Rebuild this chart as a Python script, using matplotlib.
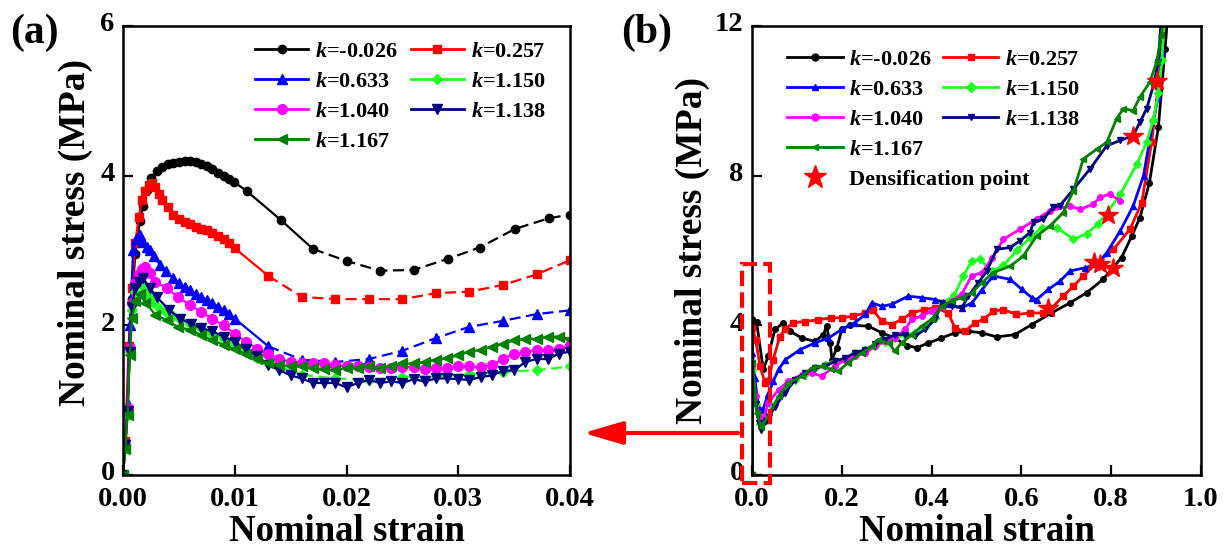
import numpy as np
import matplotlib
matplotlib.use('Agg')
import matplotlib.pyplot as plt
import matplotlib.transforms as mtransforms
from matplotlib.lines import Line2D
from matplotlib.patches import Rectangle, FancyArrowPatch

plt.rcParams['font.family'] = 'Liberation Serif'
plt.rcParams['font.weight'] = 'bold'
plt.rcParams['mathtext.fontset'] = 'custom'
plt.rcParams['mathtext.it'] = 'Liberation Serif:italic:bold'
plt.rcParams['mathtext.rm'] = 'Liberation Serif:bold'

# ---------------- panel (a): early strain 0 - 0.04 ----------------
a_x_black = [0, 0.0002, 0.0004, 0.0006, 0.0008, 0.0011, 0.0015, 0.0018, 0.0021, 0.0025,
             0.0030, 0.0035, 0.0040, 0.0045, 0.0050, 0.0055, 0.0060, 0.0065, 0.0070,
             0.0075, 0.0080, 0.0085, 0.0090, 0.0095, 0.0099, 0.0111, 0.0141, 0.0170,
             0.0200, 0.0230, 0.0260, 0.0291, 0.0319, 0.0351, 0.0381, 0.0400]
a_y_black = [0, 0.40, 0.85, 1.70, 2.35, 2.95, 3.39, 3.60, 3.81, 3.97,
             4.06, 4.11, 4.15, 4.17, 4.18, 4.19, 4.19, 4.18, 4.16,
             4.13, 4.09, 4.04, 3.99, 3.95, 3.92, 3.79, 3.41, 3.02,
             2.86, 2.73, 2.74, 2.89, 3.04, 3.29, 3.43, 3.48]

a_x_red = [0, 0.0002, 0.0003, 0.0005, 0.0008, 0.0011, 0.0014, 0.0017, 0.0020, 0.0023,
           0.0026, 0.0029, 0.0032, 0.0035, 0.0040, 0.0045, 0.0050, 0.0055, 0.0060,
           0.0065, 0.0070, 0.0075, 0.0080, 0.0085, 0.0090, 0.0095, 0.0100, 0.0130,
           0.0160, 0.0190, 0.0220, 0.0250, 0.0280, 0.0310, 0.0340, 0.0370, 0.0400]
a_y_red = [0, 0.45, 0.87, 1.72, 2.50, 3.10, 3.45, 3.68, 3.80, 3.88,
           3.90, 3.85, 3.75, 3.68, 3.58, 3.48, 3.42, 3.38, 3.36,
           3.32, 3.29, 3.27, 3.24, 3.20, 3.16, 3.10, 3.03, 2.66,
           2.38, 2.35, 2.35, 2.35, 2.43, 2.45, 2.54, 2.68, 2.87]

a_x_blue = [0, 0.0002, 0.0004, 0.0006, 0.0009, 0.0012, 0.0015, 0.0018, 0.0021, 0.0024,
            0.0028, 0.0033, 0.0038, 0.0045, 0.0050, 0.0055, 0.0060, 0.0065, 0.0070,
            0.0075, 0.0080, 0.0085, 0.0090, 0.0095, 0.0100, 0.0130, 0.0160, 0.0190,
            0.0220, 0.0250, 0.0280, 0.0310, 0.0340, 0.0370, 0.0400]
a_y_blue = [0, 0.40, 0.95, 2.00, 3.00, 3.15, 3.21, 3.12, 3.05, 3.01,
            2.92, 2.81, 2.72, 2.63, 2.56, 2.51, 2.47, 2.42, 2.38,
            2.34, 2.30, 2.25, 2.21, 2.15, 2.09, 1.72, 1.54, 1.51,
            1.55, 1.66, 1.83, 1.98, 2.06, 2.15, 2.20]

a_x_lime = [0, 0.0002, 0.0004, 0.0006, 0.0008, 0.0011, 0.0016, 0.0020, 0.0024, 0.0028,
            0.0033, 0.0039, 0.0045, 0.0051, 0.0060, 0.0070, 0.0080, 0.0090, 0.0100,
            0.0110, 0.0120, 0.0130, 0.0140, 0.0150, 0.0160, 0.0190, 0.0220, 0.0250,
            0.0280, 0.0310, 0.0340, 0.0370, 0.0400]
a_y_lime = [0, 0.35, 0.80, 1.65, 2.20, 2.45, 2.54, 2.45, 2.38, 2.30,
            2.22, 2.16, 2.12, 2.09, 2.02, 1.96, 1.89, 1.82, 1.74,
            1.65, 1.56, 1.49, 1.44, 1.39, 1.34, 1.29, 1.27, 1.31,
            1.32, 1.35, 1.38, 1.40, 1.45]

a_x_magenta = [0, 0.0002, 0.0004, 0.0006, 0.0008, 0.0011, 0.0014, 0.0017, 0.0020, 0.0024,
               0.0029, 0.0039, 0.0049, 0.0060, 0.0070, 0.0080, 0.0090, 0.0100, 0.0110,
               0.0120, 0.0130, 0.0140, 0.0150, 0.0160, 0.0170, 0.0180, 0.0190, 0.0200,
               0.0210, 0.0220, 0.0230, 0.0240, 0.0250, 0.0260, 0.0270, 0.0280, 0.0290,
               0.0300, 0.0310, 0.0320, 0.0330, 0.0340, 0.0350, 0.0360, 0.0370, 0.0380,
               0.0390, 0.0400]
a_y_magenta = [0, 0.40, 0.90, 1.70, 2.30, 2.56, 2.68, 2.75, 2.78, 2.70,
               2.58, 2.50, 2.38, 2.27, 2.18, 2.09, 2.00, 1.89, 1.78,
               1.69, 1.62, 1.55, 1.51, 1.49, 1.49, 1.49, 1.47, 1.45,
               1.45, 1.44, 1.43, 1.43, 1.44, 1.44, 1.42, 1.43, 1.43,
               1.46, 1.45, 1.44, 1.47, 1.55, 1.62, 1.64, 1.67, 1.67,
               1.68, 1.74]

a_x_navy = [0, 0.0002, 0.0004, 0.0006, 0.0008, 0.0011, 0.0014, 0.0018, 0.0024, 0.0030,
            0.0041, 0.0051, 0.0061, 0.0070, 0.0080, 0.0090, 0.0100, 0.0110, 0.0120,
            0.0130, 0.0140, 0.0150, 0.0160, 0.0170, 0.0180, 0.0190, 0.0200, 0.0210,
            0.0220, 0.0230, 0.0240, 0.0250, 0.0260, 0.0270, 0.0280, 0.0290, 0.0300,
            0.0310, 0.0320, 0.0330, 0.0340, 0.0350, 0.0360, 0.0370, 0.0380, 0.0390,
            0.0400]
a_y_navy = [0, 0.40, 0.85, 1.65, 2.25, 2.50, 2.58, 2.63, 2.50, 2.38,
            2.21, 2.09, 2.02, 1.96, 1.92, 1.85, 1.78, 1.68, 1.59,
            1.47, 1.40, 1.33, 1.29, 1.23, 1.23, 1.23, 1.17, 1.23,
            1.27, 1.23, 1.25, 1.23, 1.28, 1.25, 1.29, 1.29, 1.28,
            1.27, 1.31, 1.33, 1.39, 1.40, 1.51, 1.55, 1.55, 1.62,
            1.65]

a_x_green = [0, 0.0002, 0.0004, 0.0006, 0.0008, 0.0011, 0.0015, 0.0020, 0.0029, 0.0039,
             0.0049, 0.0060, 0.0070, 0.0080, 0.0090, 0.0100, 0.0110, 0.0120, 0.0130,
             0.0140, 0.0150, 0.0160, 0.0170, 0.0180, 0.0190, 0.0200, 0.0210, 0.0220,
             0.0230, 0.0240, 0.0250, 0.0260, 0.0270, 0.0280, 0.0290, 0.0300, 0.0310,
             0.0320, 0.0330, 0.0340, 0.0350, 0.0360, 0.0370, 0.0380, 0.0390, 0.0400]
a_y_green = [0, 0.35, 0.80, 1.60, 2.10, 2.32, 2.42, 2.30, 2.14, 2.07,
             1.98, 1.94, 1.87, 1.80, 1.74, 1.68, 1.62, 1.55, 1.50,
             1.47, 1.45, 1.45, 1.43, 1.41, 1.40, 1.43, 1.43, 1.45,
             1.43, 1.45, 1.49, 1.49, 1.51, 1.54, 1.56, 1.60, 1.65,
             1.67, 1.71, 1.75, 1.80, 1.82, 1.82, 1.85, 1.85, 1.82]

# strain where the dashed part of each curve starts (None = solid throughout)
a_dash_from = [0.0170, 0.0130, 0.0130, 0.0160, None, None, None]

# ---------------- panel (b): full strain range ----------------
b_x_black = [0, 0.001, 0.010, 0.025, 0.036, 0.051, 0.070, 0.085, 0.111, 0.140, 0.159,
             0.166, 0.174, 0.178, 0.189, 0.200, 0.218, 0.259, 0.289, 0.318, 0.345, 0.367,
             0.393, 0.422, 0.452, 0.482, 0.512, 0.545, 0.585, 0.623, 0.667, 0.708, 0.745,
             0.782, 0.823, 0.846, 0.864, 0.885, 0.905, 0.920, 0.928]
b_y_black = [0, 4.16, 4.10, 2.82, 3.17, 3.89, 4.07, 3.84, 3.66, 3.57, 3.75,
             3.98, 3.53, 3.08, 3.40, 3.89, 4.00, 3.98, 3.80, 3.66, 3.46, 3.40,
             3.53, 3.66, 3.80, 3.84, 3.80, 3.69, 3.75, 4.02, 4.33, 4.60, 4.87,
             5.23, 5.81, 6.39, 6.88, 7.80, 9.29, 11.39, 12.60]

b_x_red = [0, 0.001, 0.008, 0.018, 0.029, 0.036, 0.047, 0.062, 0.074, 0.092, 0.118,
           0.148, 0.177, 0.200, 0.226, 0.252, 0.270, 0.289, 0.311, 0.333, 0.356, 0.382,
           0.408, 0.437, 0.452, 0.474, 0.497, 0.516, 0.537, 0.560, 0.589, 0.619, 0.649,
           0.664, 0.693, 0.716, 0.738, 0.768, 0.805, 0.842, 0.868, 0.890, 0.905, 0.918]
b_y_red = [0, 3.93, 3.62, 2.90, 2.46, 2.50, 3.08, 3.70, 3.90, 4.07, 4.10,
           4.15, 4.20, 4.20, 4.25, 4.33, 4.40, 4.11, 4.02, 4.16, 4.33, 4.42,
           4.47, 4.33, 3.93, 3.84, 4.07, 4.16, 4.38, 4.42, 4.29, 4.33, 4.33,
           4.42, 4.78, 5.05, 5.32, 5.67, 6.03, 6.57, 7.28, 8.89, 10.40, 12.30]

b_x_blue = [0, 0.001, 0.006, 0.014, 0.024, 0.036, 0.047, 0.059, 0.074, 0.107, 0.140,
            0.170, 0.200, 0.229, 0.252, 0.267, 0.289, 0.311, 0.348, 0.378, 0.408, 0.437,
            0.467, 0.490, 0.512, 0.537, 0.575, 0.601, 0.623, 0.634, 0.660, 0.686, 0.708,
            0.742, 0.768, 0.790, 0.820, 0.849, 0.872, 0.894, 0.905, 0.913, 0.920]
b_y_blue = [0, 3.26, 2.60, 1.83, 1.74, 2.16, 2.50, 2.82, 3.08, 3.35, 3.53,
            3.66, 3.89, 4.07, 4.29, 4.60, 4.51, 4.56, 4.78, 4.74, 4.69, 4.56,
            4.47, 4.60, 4.95, 5.32, 5.23, 4.96, 4.74, 4.69, 4.96, 5.18, 5.45,
            5.54, 5.63, 5.94, 6.52, 7.19, 8.00, 9.52, 10.10, 11.30, 12.40]

b_x_lime = [0, 0.001, 0.008, 0.018, 0.030, 0.045, 0.070, 0.096, 0.118, 0.140, 0.163,
            0.185, 0.207, 0.229, 0.252, 0.274, 0.296, 0.318, 0.341, 0.363, 0.385, 0.408,
            0.426, 0.450, 0.471, 0.489, 0.508, 0.534, 0.560, 0.590, 0.620, 0.645, 0.679,
            0.716, 0.745, 0.770, 0.790, 0.820, 0.857, 0.879, 0.894, 0.905, 0.913, 0.918]
b_y_lime = [0, 2.80, 1.90, 1.35, 1.45, 1.85, 2.25, 2.55, 2.70, 2.85, 2.95,
            3.05, 3.10, 3.25, 3.35, 3.45, 3.55, 3.65, 3.75, 3.80, 3.95, 4.20,
            4.60, 4.80, 5.32, 5.72, 5.76, 5.45, 5.60, 6.00, 6.35, 6.61, 6.61,
            6.30, 6.45, 6.70, 7.00, 7.50, 8.30, 8.90, 9.50, 10.20, 11.10, 12.20]

b_x_magenta = [0, 0.001, 0.008, 0.015, 0.025, 0.036, 0.059, 0.081, 0.111, 0.133, 0.155,
               0.185, 0.207, 0.229, 0.252, 0.274, 0.296, 0.318, 0.341, 0.356, 0.378, 0.400,
               0.423, 0.445, 0.467, 0.489, 0.512, 0.535, 0.560, 0.597, 0.634, 0.664, 0.708,
               0.731, 0.760, 0.775, 0.797, 0.820]
b_y_magenta = [0, 2.90, 2.10, 1.57, 1.50, 1.92, 2.28, 2.51, 2.68, 2.73, 2.64,
               2.91, 3.08, 3.17, 3.26, 3.44, 3.57, 3.66, 3.89, 4.16, 4.25, 4.38,
               4.51, 4.65, 4.83, 5.32, 5.41, 5.80, 6.30, 6.57, 6.84, 7.06, 7.19,
               7.10, 7.24, 7.42, 7.51, 7.33]

b_x_navy = [0, 0.001, 0.008, 0.016, 0.021, 0.031, 0.038, 0.051, 0.074, 0.096, 0.118,
            0.140, 0.163, 0.185, 0.207, 0.229, 0.252, 0.274, 0.296, 0.318, 0.341, 0.363,
            0.385, 0.408, 0.423, 0.445, 0.467, 0.482, 0.504, 0.523, 0.545, 0.575, 0.597,
            0.619, 0.627, 0.649, 0.671, 0.686, 0.716, 0.753, 0.790, 0.820, 0.849, 0.864,
            0.879, 0.894, 0.905, 0.912]
b_y_navy = [0, 2.60, 1.90, 1.39, 1.21, 1.43, 1.56, 1.83, 2.19, 2.55, 2.73,
            2.86, 2.91, 3.04, 3.13, 3.26, 3.35, 3.49, 3.62, 3.75, 3.75, 3.71,
            3.89, 4.16, 4.60, 4.51, 4.47, 4.78, 5.14, 5.45, 6.03, 6.08, 6.26,
            6.48, 6.75, 6.84, 7.15, 7.20, 7.64, 8.18, 8.80, 8.94, 9.07, 9.43,
            9.79, 10.41, 11.03, 12.30]

b_x_green = [0, 0.001, 0.010, 0.021, 0.036, 0.059, 0.081, 0.111, 0.133, 0.155, 0.177,
             0.192, 0.214, 0.244, 0.267, 0.281, 0.304, 0.318, 0.333, 0.356, 0.378, 0.400,
             0.423, 0.445, 0.467, 0.489, 0.512, 0.537, 0.575, 0.604, 0.634, 0.664, 0.693,
             0.716, 0.738, 0.768, 0.790, 0.812, 0.827, 0.849, 0.864, 0.886, 0.901, 0.912,
             0.918]
b_y_green = [0, 3.00, 1.65, 1.29, 1.56, 2.10, 2.46, 2.64, 2.86, 2.91, 2.82,
             2.77, 3.00, 3.26, 3.44, 3.62, 3.53, 3.31, 3.53, 3.75, 3.98, 4.16,
             4.51, 4.65, 4.74, 4.87, 5.14, 5.41, 5.58, 5.85, 6.39, 6.66, 7.01,
             7.60, 8.45, 8.71, 8.89, 9.52, 9.79, 9.74, 10.10, 10.50, 11.03, 11.75,
             12.40]

# densification points
dens_x = [0.660, 0.762, 0.776, 0.803, 0.794, 0.849, 0.901]
dens_y = [4.45, 5.70, 5.65, 5.52, 6.94, 9.07, 10.54]

# styles, same order as the data lists below
colors = ['#000000', '#ff0000', '#0000ff', '#22ff22', '#ff00ff', '#000080', '#008000']
markers = ['o', 's', '^', 'D', 'o', 'v', '<']
msizes_a = [6, 6, 7, 5, 7, 7, 7]
series_k = ['-0.026', '0.257', '0.633', '1.150', '1.040', '1.138', '1.167']

a_data = [(a_x_black, a_y_black), (a_x_red, a_y_red), (a_x_blue, a_y_blue),
          (a_x_lime, a_y_lime), (a_x_magenta, a_y_magenta), (a_x_navy, a_y_navy),
          (a_x_green, a_y_green)]
b_data = [(b_x_black, b_y_black), (b_x_red, b_y_red), (b_x_blue, b_y_blue),
          (b_x_lime, b_y_lime), (b_x_magenta, b_y_magenta), (b_x_navy, b_y_navy),
          (b_x_green, b_y_green)]

fig = plt.figure(figsize=(12.28, 5.52), dpi=100)
ax1 = fig.add_axes([0.1002, 0.1395, 0.3640, 0.8134])
ax2 = fig.add_axes([0.6124, 0.1395, 0.3656, 0.8134])

dash = (0, (5, 2.5))
for (x, y), c, m, ms, split in zip(a_data, colors, markers, msizes_a, a_dash_from):
    x = np.asarray(x)
    y = np.asarray(y)
    if split is None:
        ax1.plot(x, y, '-', color=c, lw=1.6)
    else:
        s = x <= split + 1e-9
        d = x >= split - 1e-9
        ax1.plot(x[s], y[s], '-', color=c, lw=1.6)
        ax1.plot(x[d], y[d], ls=dash, color=c, lw=1.6)
    ax1.plot(x, y, ls='none', marker=m, ms=ms, color=c, mec=c)

for (x, y), c, m in zip(b_data, colors, markers):
    ax2.plot(x, y, '-', color=c, lw=2.0, marker=m, ms=4, mec=c)
ax2.plot(dens_x, dens_y, ls='none', marker='*', ms=15, color='#ff0000', mec='#ff0000', zorder=5)

ax1.set_xlim(0, 0.04)
ax1.set_ylim(0, 6)
ax1.set_xticks([0, 0.01, 0.02, 0.03, 0.04])
ax1.set_xticklabels(['0.00', '0.01', '0.02', '0.03', '0.04'])
ax1.set_yticks([0, 2, 4, 6])
ax1.set_yticklabels(['0', '2', '4', '6'])

ax2.set_xlim(0, 1.0)
ax2.set_ylim(0, 12)
ax2.set_xticks([0, 0.2, 0.4, 0.6, 0.8, 1.0])
ax2.set_xticklabels(['0.0', '0.2', '0.4', '0.6', '0.8', '1.0'])
ax2.set_yticks([0, 4, 8, 12])
ax2.set_yticklabels(['0', '4', '8', '12'])

up = mtransforms.ScaledTranslation(0, 3 / 72, fig.dpi_scale_trans)
for ax in (ax1, ax2):
    for sp in ax.spines.values():
        sp.set_linewidth(1.8)
    ax.tick_params(direction='in', length=7, width=1.6, labelsize=20.5)
    ax.tick_params(axis='x', pad=9)
    ax.tick_params(axis='y', pad=6)
    # lift the y tick labels a little so "0" clears the x labels
    for lab in ax.get_yticklabels():
        lab.set_transform(lab.get_transform() + up)
    ax.set_xlabel('Nominal strain', fontsize=26.5, fontweight='bold', labelpad=1)
    ax.set_ylabel('Nominal stress (MPa)', fontsize=27, fontweight='bold', labelpad=4)
ax1.yaxis.set_label_coords(-0.067, 0.54)

# legends: column-major order so rows read (-0.026, 0.257), (0.633, 1.150), ...
order = [0, 2, 4, 6, 1, 3, 5]


def handle(i, ms):
    return Line2D([], [], color=colors[i], marker=markers[i], ms=ms, mec=colors[i], lw=2)


leg_kw = dict(ncol=2, loc='upper left', frameon=False, fontsize=16, handletextpad=0.3,
              labelspacing=0.42, borderaxespad=0, borderpad=0.2)

h_a = [handle(i, msizes_a[i]) for i in order]
l_a = [r'$k$=' + series_k[i] for i in order]
ax1.legend(h_a, l_a, bbox_to_anchor=(0.285, 0.975), handlelength=2.4,
           columnspacing=0.6, **leg_kw)

h_b = [handle(i, 5) for i in order]
leg_b = ax2.legend(h_b, l_a, bbox_to_anchor=(0.068, 0.958), handlelength=2.5,
                   columnspacing=0.5, **leg_kw)
ax2.add_artist(leg_b)
star = Line2D([], [], ls='none', marker='*', ms=17, color='#ff0000', mec='#ff0000')
ax2.legend([star], ['Densification point'], loc='upper left', bbox_to_anchor=(0.068, 0.690),
           frameon=False, fontsize=16, handlelength=2.5, handletextpad=0.3,
           borderaxespad=0, borderpad=0.2)

# dashed box marking the zoomed region in (b)
ax2.add_patch(Rectangle((-0.022, -0.21), 0.062, 5.84, fill=False, ec='#ff0000', lw=3,
                        ls=(0, (3.7, 1.5)), clip_on=False, zorder=6))

# arrow from (b) box to (a)
fig.add_artist(FancyArrowPatch((0.601, 0.2156), (0.475, 0.2156), transform=fig.transFigure,
                               arrowstyle='-|>,head_length=1.2,head_width=0.35',
                               mutation_scale=20, color='#ff0000', lw=3,
                               shrinkA=0, shrinkB=0))

fig.text(0.008, 0.94, '(a)', fontsize=30, fontweight='bold', va='center', ha='left')
fig.text(0.506, 0.94, '(b)', fontsize=30, fontweight='bold', va='center', ha='left')

fig.savefig('out.png', dpi=100)
